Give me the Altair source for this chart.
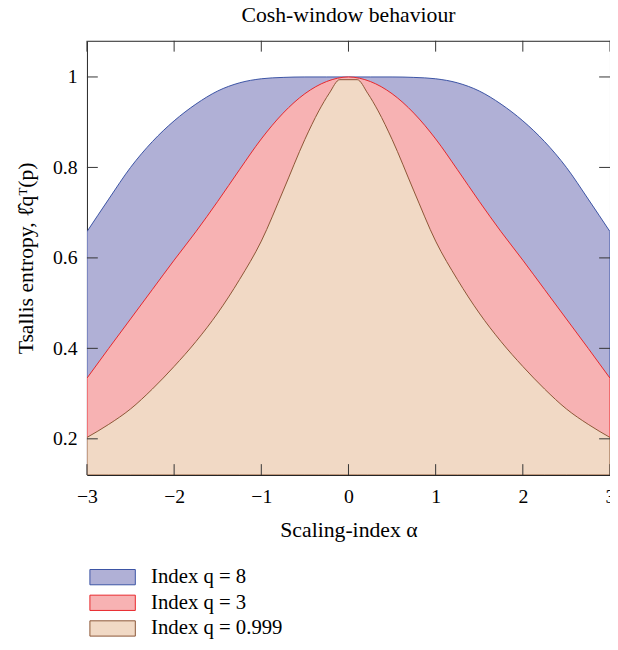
import altair as alt
import pandas as pd

# ---- data ----
series_names = ["Index q = 8", "Index q = 3", "Index q = 0.999"]

alpha_q8 = [-3, -2.75, -2.5, -2.25, -2, -1.75, -1.5, -1.25, -1, -0.75, -0.5, -0.25, 0,
            0.25, 0.5, 0.75, 1, 1.25, 1.5, 1.75, 2, 2.25, 2.5, 2.75, 3]
ent_q8 = [0.658, 0.730, 0.800, 0.857, 0.903, 0.940, 0.969, 0.987, 0.996, 0.999, 1.0, 1.0, 1.0,
          1.0, 1.0, 0.999, 0.996, 0.987, 0.969, 0.940, 0.903, 0.857, 0.800, 0.730, 0.658]

alpha_q3 = [-3, -2.75, -2.5, -2.25, -2, -1.75, -1.5, -1.25, -1, -0.75, -0.5, -0.25, 0,
            0.25, 0.5, 0.75, 1, 1.25, 1.5, 1.75, 2, 2.25, 2.5, 2.75, 3]
ent_q3 = [0.334, 0.400, 0.465, 0.530, 0.595, 0.658, 0.725, 0.795, 0.863, 0.920, 0.963, 0.990, 1.0,
          0.990, 0.963, 0.920, 0.863, 0.795, 0.725, 0.658, 0.595, 0.530, 0.465, 0.400, 0.334]

alpha_q1 = [-3, -2.75, -2.5, -2.25, -2, -1.75, -1.5, -1.25, -1, -0.75, -0.5, -0.34, -0.22, -0.1,
            0.1, 0.22, 0.34, 0.5, 0.75, 1, 1.25, 1.5, 1.75, 2, 2.25, 2.5, 2.75, 3]
ent_q1 = [0.203, 0.232, 0.266, 0.310, 0.360, 0.415, 0.478, 0.552, 0.637, 0.748, 0.862, 0.925, 0.964, 0.994,
          0.994, 0.964, 0.925, 0.862, 0.748, 0.637, 0.552, 0.478, 0.415, 0.360, 0.310, 0.266, 0.232, 0.203]

x_ticks = [-3, -2, -1, 0, 1, 2, 3]
y_ticks = [0.2, 0.4, 0.6, 0.8, 1.0]

X_DOMAIN = [-3, 3]
Y_DOMAIN = [0.12, 1.08]

fills = ["#b0b0d6", "#f7b2b3", "#f1d9c5"]
strokes = ["#3a52a4", "#e8262a", "#8b5535"]

W, H = 530, 440
TICK = 11
FONT = "Liberation Serif"

rows = []
for name, xs, ys in [(series_names[0], alpha_q8, ent_q8),
                     (series_names[1], alpha_q3, ent_q3),
                     (series_names[2], alpha_q1, ent_q1)]:
    for a, v in zip(xs, ys):
        rows.append({"series": name, "alpha": a, "value": v})
df = pd.DataFrame(rows)

xt = pd.DataFrame({"alpha": x_ticks})
yt = pd.DataFrame({"value": y_ticks})

x_scale = alt.Scale(domain=X_DOMAIN, nice=False, zero=False)
y_scale = alt.Scale(domain=Y_DOMAIN, nice=False, zero=False)

x_enc = alt.X("alpha:Q", scale=x_scale,
              axis=alt.Axis(values=x_ticks, format="d", ticks=False, domain=False, grid=False,
                            labelFlush=False, labelPadding=12, titlePadding=13),
              title="Scaling-index α")
y_enc = alt.Y("value:Q", scale=y_scale,
              axis=alt.Axis(values=y_ticks, format=".1~f", ticks=False, domain=False, grid=False,
                            labelFlush=False, labelPadding=10, titlePadding=15),
              title="Tsallis entropy, ℓ̂qᵀ(p)")

legend = alt.Legend(title=None, orient="none", legendX=15.5, legendY=533, padding=0,
                    symbolType="M-2.97,-1L2.97,-1L2.97,1L-2.97,1Z", symbolSize=240,
                    symbolStrokeWidth=1, labelFont=FONT, labelFontSize=21, labelColor="#000",
                    labelOffset=28.5, rowPadding=4)
color_enc = alt.Color("series:N", scale=alt.Scale(domain=series_names, range=fills), legend=legend)
stroke_enc = alt.Stroke("series:N", scale=alt.Scale(domain=series_names, range=strokes), legend=legend)

layers = []
for i, name in enumerate(series_names):
    layers.append(
        alt.Chart(df).transform_filter(alt.datum.series == name)
        .mark_area(clip=True, fillOpacity=1, strokeWidth=1, interpolate="monotone")
        .encode(x=x_enc, y=y_enc, y2=alt.datum(Y_DOMAIN[0]), color=color_enc, stroke=stroke_enc)
    )

tick_color = "#333333"
top_ticks = alt.Chart(xt).mark_rule(color=tick_color, strokeWidth=1).encode(
    x=x_enc, y=alt.value(0), y2=alt.value(TICK))
bottom_ticks = alt.Chart(xt).mark_rule(color=tick_color, strokeWidth=1).encode(
    x=x_enc, y=alt.value(H), y2=alt.value(H - TICK))
left_ticks = alt.Chart(yt).mark_rule(color=tick_color, strokeWidth=1).encode(
    y=y_enc, x=alt.value(0), x2=alt.value(TICK))
right_ticks = alt.Chart(yt).mark_rule(color=tick_color, strokeWidth=1).encode(
    y=y_enc, x=alt.value(W), x2=alt.value(W - TICK))

chart = alt.layer(*layers, top_ticks, bottom_ticks, left_ticks, right_ticks).properties(
    width=W, height=H,
    title=alt.TitleParams("Cosh-window behaviour", font=FONT, fontSize=22, fontWeight="normal",
                          color="#000", anchor="middle", offset=14),
    autosize=alt.AutoSizeParams(type="none"),
    padding={"left": 80, "top": 29, "right": 0, "bottom": 165},
    background="white",
).configure_view(stroke="#222222", strokeWidth=1).configure_axis(
    labelFont=FONT, labelFontSize=20, labelColor="#000",
    titleFont=FONT, titleFontSize=22, titleFontWeight="normal", titleColor="#000",
)

chart.save("out.html", embed_options={"renderer": "svg", "actions": False})
